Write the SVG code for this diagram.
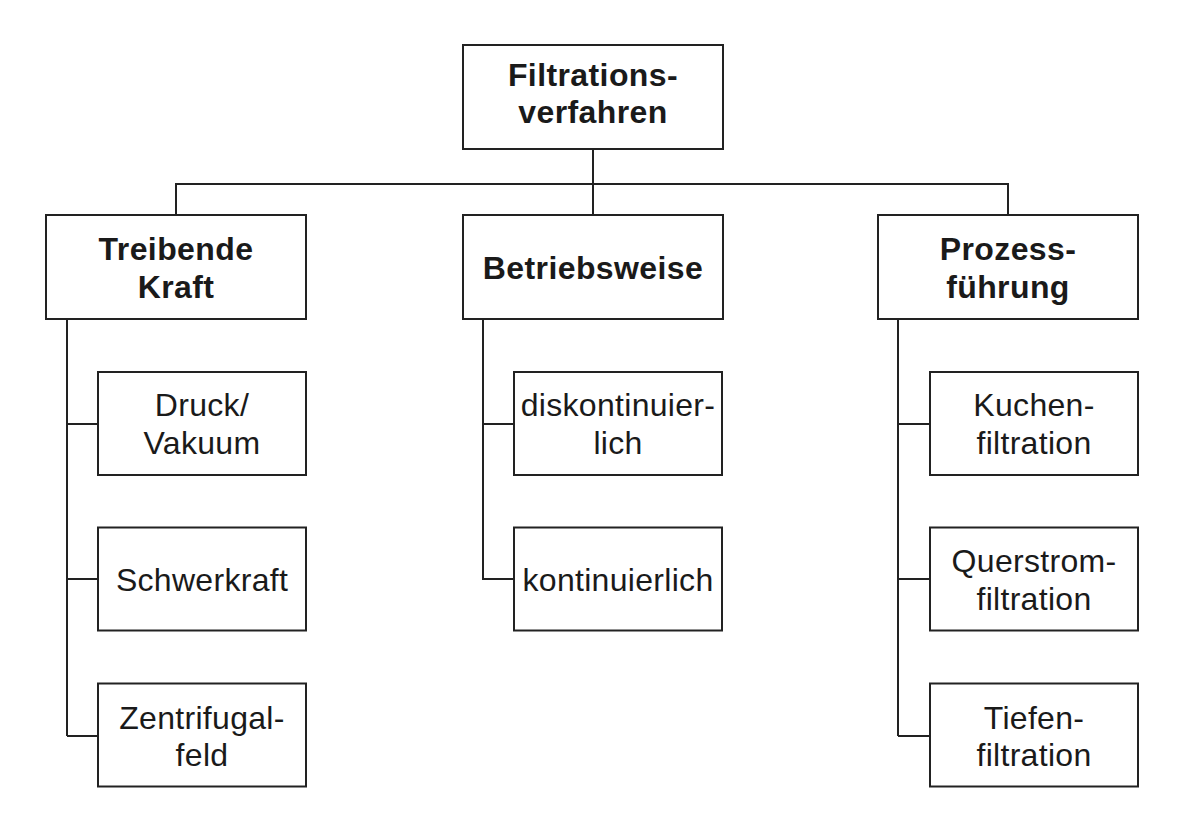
<svg xmlns="http://www.w3.org/2000/svg" width="1193" height="821" viewBox="0 0 1193 821">
<style>
.box{fill:#fff;stroke:#222;stroke-width:2}
.ln{fill:none;stroke:#222;stroke-width:2}
.b{font-family:"Liberation Sans",Arial,sans-serif;font-weight:bold;font-size:32px;letter-spacing:0.4px;fill:#1a1a1a;text-anchor:middle}
.r{font-family:"Liberation Sans",Arial,sans-serif;font-size:32px;letter-spacing:0.3px;fill:#1a1a1a;text-anchor:middle}
</style>
<rect width="1193" height="821" fill="#fff"/>
<g id="connectors" class="ln">
<path d="M593,149 V215"/>
<path d="M176,215 V184 H1008 V215"/>
<path d="M67,319 V736 M67,424 H98 M67,579 H98 M67,736 H98"/>
<path d="M483,319 V579 H514 M483,424 H514"/>
<path d="M898,319 V736 M898,424 H930 M898,579 H930 M898,736 H930"/>
</g>
<g id="root"><rect class="box" x="463" y="45" width="260" height="104"/>
<text class="b" x="593" y="86">Filtrations-</text><text class="b" x="593" y="123">verfahren</text></g>
<g id="treibende"><rect class="box" x="46" y="215" width="260" height="104"/>
<text class="b" x="176" y="260">Treibende</text><text class="b" x="176" y="298">Kraft</text></g>
<g id="betriebsweise"><rect class="box" x="463" y="215" width="260" height="104"/>
<text class="b" x="593" y="278.5">Betriebsweise</text></g>
<g id="prozess"><rect class="box" x="878" y="215" width="260" height="104"/>
<text class="b" x="1008" y="260">Prozess-</text><text class="b" x="1008" y="298">führung</text></g>
<g id="druck"><rect class="box" x="98" y="372" width="208" height="103"/>
<text class="r" x="202" y="416">Druck/</text><text class="r" x="202" y="453.5">Vakuum</text></g>
<g id="schwerkraft"><rect class="box" x="98" y="527.5" width="208" height="103"/>
<text class="r" x="202" y="590.5">Schwerkraft</text></g>
<g id="zentrifugal"><rect class="box" x="98" y="683.5" width="208" height="103"/>
<text class="r" x="202" y="728.5">Zentrifugal-</text><text class="r" x="202" y="765.5">feld</text></g>
<g id="diskontinuierlich"><rect class="box" x="514" y="372" width="208" height="103"/>
<text class="r" x="618" y="416">diskontinuier-</text><text class="r" x="618" y="453.5">lich</text></g>
<g id="kontinuierlich"><rect class="box" x="514" y="527.5" width="208" height="103"/>
<text class="r" x="618" y="590.5">kontinuierlich</text></g>
<g id="kuchen"><rect class="box" x="930" y="372" width="208" height="103"/>
<text class="r" x="1034" y="416">Kuchen-</text><text class="r" x="1034" y="453.5">filtration</text></g>
<g id="querstrom"><rect class="box" x="930" y="527.5" width="208" height="103"/>
<text class="r" x="1034" y="572">Querstrom-</text><text class="r" x="1034" y="609.5">filtration</text></g>
<g id="tiefen"><rect class="box" x="930" y="683.5" width="208" height="103"/>
<text class="r" x="1034" y="728.5">Tiefen-</text><text class="r" x="1034" y="765.5">filtration</text></g>
</svg>
